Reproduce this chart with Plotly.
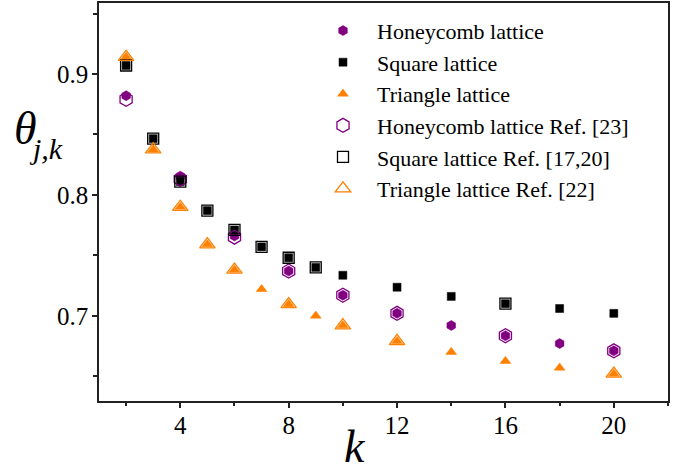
import plotly.graph_objects as go

# k values for each data set
k_square = [2, 3, 4, 5, 6, 7, 8, 9, 10, 12, 14, 16, 18, 20]
k_triangle = [2, 3, 4, 5, 6, 7, 8, 9, 10, 12, 14, 16, 18, 20]
k_honeycomb = [2, 4, 6, 8, 10, 12, 14, 16, 18, 20]

# present results
theta_square = [0.907, 0.8465, 0.811, 0.787, 0.771, 0.757, 0.748, 0.740, 0.7335,
                0.7236, 0.716, 0.710, 0.706, 0.702]
theta_triangle = [0.914, 0.8375, 0.790, 0.759, 0.738, 0.722, 0.7095, 0.700, 0.692,
                  0.679, 0.670, 0.6625, 0.657, 0.652]
theta_honeycomb = [0.882, 0.8155, 0.766, 0.737, 0.717, 0.702, 0.692, 0.6835, 0.677, 0.671]

# literature values
k_honeycomb_ref = [2, 4, 6, 8, 10, 12, 16, 20]
theta_honeycomb_ref = [0.879, 0.813, 0.765, 0.737, 0.717, 0.702, 0.6835, 0.671]
k_square_ref = [2, 3, 4, 5, 6, 7, 8, 9, 16]
theta_square_ref = [0.907, 0.8465, 0.811, 0.787, 0.771, 0.757, 0.748, 0.740, 0.710]
k_triangle_ref = [2, 3, 4, 5, 6, 8, 10, 12, 20]
theta_triangle_ref = [0.914, 0.8375, 0.790, 0.759, 0.738, 0.7095, 0.692, 0.679, 0.652]

PURPLE = "#800080"
ORANGE = "#FF8000"
BLACK = "#000000"
FONT = "Liberation Serif"

fig = go.Figure()

fig.add_trace(go.Scatter(
    x=k_honeycomb, y=theta_honeycomb, mode="markers", name="Honeycomb lattice",
    marker=dict(symbol="hexagon", size=10, color=PURPLE, line=dict(width=0.5, color=PURPLE))))
fig.add_trace(go.Scatter(
    x=k_square, y=theta_square, mode="markers", name="Square lattice",
    marker=dict(symbol="square", size=8, color=BLACK, line=dict(width=0.5, color=BLACK))))
fig.add_trace(go.Scatter(
    x=k_triangle, y=theta_triangle, mode="markers", name="Triangle lattice",
    marker=dict(symbol="triangle-up", size=9.5, color=ORANGE, line=dict(width=0.5, color=ORANGE))))
fig.add_trace(go.Scatter(
    x=k_honeycomb_ref, y=theta_honeycomb_ref, mode="markers", name="Honeycomb lattice Ref. [23]",
    marker=dict(symbol="hexagon-open", size=14, color=PURPLE, line=dict(width=1.3, color=PURPLE))))
fig.add_trace(go.Scatter(
    x=k_square_ref, y=theta_square_ref, mode="markers", name="Square lattice Ref. [17,20]",
    marker=dict(symbol="square-open", size=11, color=BLACK, line=dict(width=1.3, color=BLACK))))
fig.add_trace(go.Scatter(
    x=k_triangle_ref, y=theta_triangle_ref, mode="markers", name="Triangle lattice Ref. [22]",
    marker=dict(symbol="triangle-up-open", size=13.5, color=ORANGE, line=dict(width=1.3, color=ORANGE))))

axis_common = dict(
    showline=True, linecolor="#222", linewidth=1.6, mirror=True,
    ticks="outside", tickcolor="#222", tickwidth=1.5,
    showgrid=False, zeroline=False,
    tickfont=dict(family=FONT, size=25, color="black"),
)

fig.update_xaxes(
    range=[1, 22], tick0=0, dtick=4, ticklen=5, ticklabelstandoff=-4,
    minor=dict(dtick=2, ticks="outside", ticklen=3, tickcolor="#222", tickwidth=1.5),
    **axis_common)
fig.update_yaxes(
    range=[0.6295, 0.9587], tick0=0.7, dtick=0.1, ticklen=5, tickformat=".1f",
    ticklabelstandoff=-1,
    minor=dict(dtick=0.05, ticks="outside", ticklen=4, tickcolor="#222", tickwidth=1.5),
    **axis_common)

fig.add_annotation(text="<i>k</i>", xref="paper", yref="paper", x=(355 - 99) / 569, y=(401 - 447) / 400,
                   xanchor="center", yanchor="middle", showarrow=False,
                   font=dict(family=FONT, size=46, color="black"))
fig.add_annotation(text="<i>θ</i>", xref="paper", yref="paper", x=-0.13, y=(401 - 127.5) / 400,
                   xanchor="center", yanchor="middle", showarrow=False,
                   font=dict(family=FONT, size=46, color="black"))
fig.add_annotation(text="<i>j,k</i>", xref="paper", yref="paper", x=(27 - 99) / 569, y=(401 - 147) / 400,
                   xanchor="left", yanchor="middle", showarrow=False,
                   font=dict(family=FONT, size=30, color="black"))

fig.update_layout(
    width=685, height=474,
    margin=dict(l=99, r=17, t=1, b=73),
    paper_bgcolor="white", plot_bgcolor="white",
    showlegend=True,
    legend=dict(x=(309 - 99) / 569, y=0.983, xanchor="left", yanchor="top",
                itemwidth=58, bgcolor="rgba(0,0,0,0)", borderwidth=0,
                font=dict(family=FONT, size=22, color="black")),
)

fig.write_html("out.html")
